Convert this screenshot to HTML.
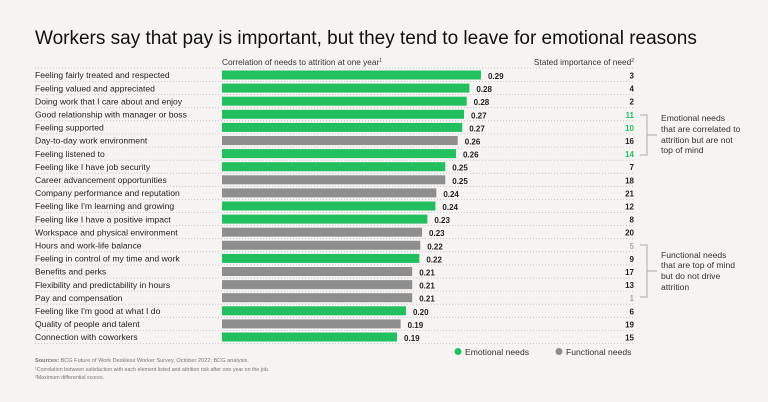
<!DOCTYPE html>
<html><head><meta charset="utf-8"><style>
body{margin:0;background:#f5f4f2;font-family:"Liberation Sans",sans-serif;}
svg{display:block}
text{font-family:"Liberation Sans",sans-serif}
</style></head><body>
<svg id="c" width="768" height="402">
<rect width="768" height="402" fill="#f5f4f2"/>
<text x="35" y="44" font-size="19" fill="#111">Workers say that pay is important, but they tend to leave for emotional reasons</text>
<text x="222" y="65" font-size="8.3" fill="#333">Correlation of needs to attrition at one year<tspan font-size="5" dy="-3">1</tspan></text>
<text x="634" y="65" font-size="8.3" fill="#333" text-anchor="end">Stated importance of need<tspan font-size="5" dy="-3">2</tspan></text>
<g id="rows"></g>
<g stroke="#aaa" fill="none" stroke-width="1">
<path d="M640 115H647V155H640M647 135H657"/></g>
<text font-size="8.6" fill="#333"><tspan x="661" y="121">Emotional needs</tspan><tspan x="661" y="132">that are correlated to</tspan><tspan x="661" y="143">attrition but are not</tspan><tspan x="661" y="153">top of mind</tspan></text>
<g stroke="#aaa" fill="none" stroke-width="1">
<path d="M640 245H647V297H640M647 271H657"/></g>
<text font-size="8.6" fill="#333"><tspan x="661" y="258">Functional needs</tspan><tspan x="661" y="268">that are top of mind</tspan><tspan x="661" y="279">but do not drive</tspan><tspan x="661" y="290">attrition</tspan></text>
<circle cx="458" cy="351.5" r="3.5" fill="#22bf5e"/>
<text x="465" y="355" font-size="8.6" fill="#333">Emotional needs</text>
<circle cx="559" cy="351.5" r="3.5" fill="#8e8e8e"/>
<text x="566" y="355" font-size="8.6" fill="#333">Functional needs</text>
<text x="35" y="362" font-size="5.6" fill="#777"><tspan font-weight="bold">Sources:</tspan> BCG Future of Work Deskless Worker Survey, October 2022; BCG analysis.</text>
<text x="35" y="371" font-size="5.3" fill="#777">¹Correlation between satisfaction with each element listed and attrition risk after one year on the job.</text>
<text x="35" y="379" font-size="5.3" fill="#777">²Maximum differential scores.</text>
</svg>
<script>
const categories=["Feeling fairly treated and respected","Feeling valued and appreciated","Doing work that I care about and enjoy","Good relationship with manager or boss","Feeling supported","Day-to-day work environment","Feeling listened to","Feeling like I have job security","Career advancement opportunities","Company performance and reputation","Feeling like I'm learning and growing","Feeling like I have a positive impact","Workspace and physical environment","Hours and work-life balance","Feeling in control of my time and work","Benefits and perks","Flexibility and predictability in hours","Pay and compensation","Feeling like I'm good at what I do","Quality of people and talent","Connection with coworkers"];
const correlation=[0.290,0.277,0.274,0.271,0.269,0.264,0.262,0.250,0.250,0.240,0.239,0.230,0.224,0.222,0.221,0.213,0.213,0.213,0.206,0.200,0.196];
const valueLabels=["0.29","0.28","0.28","0.27","0.27","0.26","0.26","0.25","0.25","0.24","0.24","0.23","0.23","0.22","0.22","0.21","0.21","0.21","0.20","0.19","0.19"];
const needType=["e","e","e","e","e","f","e","e","f","f","e","e","f","f","e","f","f","f","e","f","e"];
const importance=["3","4","2","11","10","16","14","7","18","21","12","8","20","5","9","17","13","1","6","19","15"];
const importanceHighlight=["","","","g","g","","g","","","","","","","l","","","","l","","",""];
const x0=222, pxPerUnit=893, y0=75, rowH=13.1;
const xs=v=>x0+v*pxPerUnit, ys=i=>y0+i*rowH;
const g=document.getElementById('rows');
const NS="http://www.w3.org/2000/svg";
function mk(t,a){const e=document.createElementNS(NS,t);for(const k in a)e.setAttribute(k,a[k]);g.appendChild(e);return e;}
const l0=mk('line',{x1:35,x2:634,y1:ys(0)-7,y2:ys(0)-7,stroke:'#bbb','stroke-dasharray':'1 2','stroke-width':0.8});


categories.forEach((c,i)=>{
 const y=ys(i);
 const ln=mk('line',{x1:35,x2:634,y1:y+6.5,y2:y+6.5,stroke:'#bbb','stroke-dasharray':'1 2','stroke-width':0.8});
 
 
 const t=mk('text',{x:35,y:y+3.2,'font-size':8.6,fill:'#222'});t.textContent=c;
 
 
 const b=mk('rect',{x:x0,y:y-4.5,width:xs(correlation[i])-x0,height:9,fill:needType[i]=='e'?'#22bf5e':'#8e8e8e'});
 
 
 const v=mk('text',{x:xs(correlation[i])+7,y:y+4,'font-size':8,'font-weight':'bold',fill:'#222'});v.textContent=valueLabels[i];
 
 
 const h=importanceHighlight[i];
 const r=mk('text',{x:634,y:y+3.5,'font-size':8,'font-weight':'bold','text-anchor':'end',fill:h=='g'?'#22bf5e':h=='l'?'#aaa':'#222'});r.textContent=importance[i];
 
 
});
</script>
</body></html>
